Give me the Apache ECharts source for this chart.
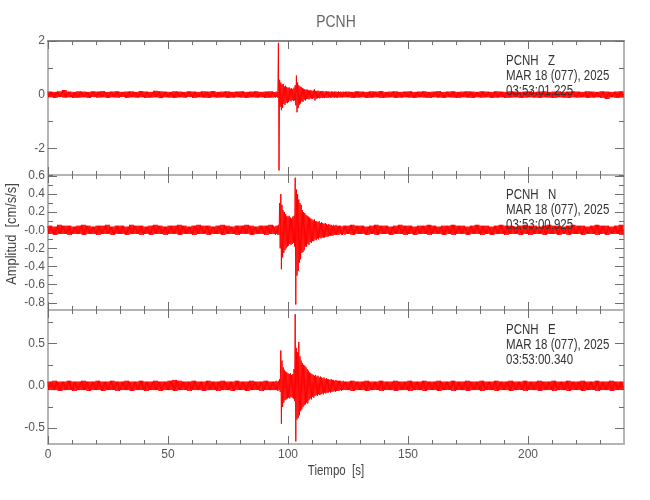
<!DOCTYPE html>
<html>
<head>
<meta charset="utf-8">
<title>PCNH</title>
<script src="https://cdn.jsdelivr.net/npm/echarts@6/dist/echarts.min.js"></script>
<style>
  html, body { margin: 0; padding: 0; background: #fff; }
  #chart { width: 650px; height: 500px; }
</style>
</head>
<body>
<div id="chart"></div>
<script>
// Seismogram PCNH, three components (Z, N, E)
// Each trace is kept as a min/max envelope:
// 2 s bins before 94 s, 0.5 s bins from 94 to 124 s, 2 s bins after.

const xMajorTicks = [0, 50, 100, 150, 200];
const xMinorTicks = [10, 20, 30, 40, 60, 70, 80, 90, 110, 120, 130, 140, 160, 170, 180, 190, 210, 220, 230];

// ---- Z component [cm/s/s]
const zHi = [
  // 0 - 94 s
  0.11,0.10,0.12,0.17,0.11,0.10,0.12,0.11,0.10,0.12,
  0.11,0.13,0.10,0.11,0.12,0.10,0.11,0.12,0.10,0.13,
  0.11,0.10,0.14,0.12,0.11,0.10,0.12,0.11,0.10,0.12,
  0.11,0.10,0.12,0.11,0.13,0.10,0.11,0.12,0.10,0.11,
  0.12,0.10,0.11,0.12,0.10,0.11,0.12,
  // 94 - 124 s
  0.10,0.09,0.11,0.10,1.93,0.55,0.45,0.38,0.40,0.30,
  0.33,0.28,0.25,0.27,0.22,0.24,0.20,0.26,0.35,0.71,
  0.45,0.35,0.30,0.28,0.25,0.22,0.20,0.18,0.19,0.16,
  0.15,0.17,0.14,0.15,0.20,0.14,0.13,0.15,0.12,0.13,
  0.12,0.14,0.11,0.12,0.13,0.11,0.12,0.10,0.12,0.11,
  0.10,0.12,0.11,0.10,0.12,0.10,0.11,0.10,0.11,0.10,
  // 124 - 240 s
  0.11,0.10,0.12,0.11,0.10,0.12,0.11,0.13,0.10,0.11,
  0.12,0.10,0.11,0.12,0.10,0.11,0.12,0.10,0.11,0.13,
  0.10,0.11,0.12,0.10,0.11,0.12,0.11,0.10,0.12,0.11,
  0.10,0.12,0.11,0.10,0.12,0.11,0.10,0.11,0.12,0.10,
  0.11,0.12,0.10,0.11,0.12,0.10,0.11,0.12,0.11,0.10,
  0.12,0.11,0.10,0.12,0.11,0.10,0.11,0.12
];
const zLo = [
  -0.10,-0.12,-0.09,-0.11,-0.10,-0.12,-0.11,-0.10,-0.12,-0.09,
  -0.11,-0.10,-0.12,-0.10,-0.11,-0.09,-0.12,-0.10,-0.11,-0.10,
  -0.12,-0.11,-0.10,-0.13,-0.10,-0.11,-0.12,-0.10,-0.11,-0.09,
  -0.12,-0.10,-0.11,-0.12,-0.10,-0.11,-0.10,-0.12,-0.11,-0.10,
  -0.11,-0.12,-0.10,-0.11,-0.10,-0.12,-0.11,
  -0.10,-0.11,-0.09,-0.12,-2.83,-0.45,-0.58,-0.50,-0.35,-0.38,
  -0.30,-0.32,-0.28,-0.22,-0.25,-0.20,-0.24,-0.22,-0.40,-0.66,
  -0.50,-0.38,-0.33,-0.25,-0.27,-0.20,-0.22,-0.17,-0.16,-0.18,
  -0.14,-0.15,-0.16,-0.13,-0.22,-0.15,-0.14,-0.12,-0.14,-0.12,
  -0.13,-0.11,-0.13,-0.11,-0.12,-0.12,-0.10,-0.12,-0.11,-0.10,
  -0.12,-0.10,-0.11,-0.12,-0.10,-0.11,-0.10,-0.11,-0.10,-0.10,
  -0.10,-0.12,-0.11,-0.10,-0.12,-0.11,-0.10,-0.12,-0.11,-0.10,
  -0.12,-0.11,-0.10,-0.11,-0.12,-0.10,-0.11,-0.12,-0.10,-0.11,
  -0.12,-0.10,-0.11,-0.12,-0.10,-0.11,-0.12,-0.10,-0.11,-0.10,
  -0.12,-0.11,-0.10,-0.12,-0.11,-0.10,-0.12,-0.11,-0.10,-0.11,
  -0.12,-0.10,-0.11,-0.12,-0.10,-0.11,-0.12,-0.10,-0.11,-0.10,
  -0.12,-0.11,-0.10,-0.12,-0.16,-0.10,-0.12,-0.11
];

// ---- N component
const nHi = [
  0.05,0.04,0.06,0.05,0.05,0.04,0.05,0.06,0.05,0.04,
  0.05,0.05,0.06,0.04,0.05,0.05,0.04,0.06,0.05,0.05,
  0.04,0.05,0.06,0.05,0.04,0.05,0.05,0.06,0.05,0.04,
  0.05,0.06,0.05,0.05,0.04,0.05,0.06,0.05,0.04,0.05,
  0.05,0.06,0.05,0.04,0.05,0.05,0.06,
  0.05,0.04,0.05,0.05,0.06,0.30,0.40,0.28,0.22,0.20,
  0.18,0.16,0.15,0.16,0.14,0.13,0.15,0.16,0.58,0.45,
  0.40,0.34,0.30,0.28,0.22,0.20,0.19,0.17,0.16,0.15,
  0.14,0.13,0.12,0.11,0.12,0.10,0.10,0.09,0.10,0.08,
  0.09,0.08,0.07,0.08,0.07,0.06,0.07,0.06,0.06,0.05,
  0.06,0.05,0.06,0.05,0.05,0.05,0.05,0.04,0.05,0.05,
  0.05,0.06,0.05,0.05,0.04,0.05,0.06,0.05,0.05,0.04,
  0.05,0.06,0.05,0.05,0.04,0.05,0.05,0.06,0.05,0.04,
  0.05,0.05,0.06,0.05,0.05,0.04,0.05,0.06,0.05,0.05,
  0.04,0.05,0.06,0.05,0.05,0.04,0.05,0.06,0.05,0.05,
  0.04,0.05,0.06,0.05,0.05,0.04,0.05,0.06,0.05,0.05,
  0.04,0.05,0.06,0.05,0.05,0.04,0.05,0.06
];
const nLo = [
  -0.04,-0.05,-0.04,-0.04,-0.05,-0.04,-0.04,-0.05,-0.04,-0.04,
  -0.05,-0.04,-0.04,-0.05,-0.04,-0.04,-0.05,-0.04,-0.04,-0.05,
  -0.04,-0.05,-0.04,-0.04,-0.05,-0.04,-0.04,-0.05,-0.04,-0.04,
  -0.05,-0.04,-0.04,-0.05,-0.04,-0.04,-0.05,-0.04,-0.04,-0.05,
  -0.04,-0.04,-0.05,-0.04,-0.04,-0.05,-0.04,
  -0.04,-0.05,-0.04,-0.05,-0.05,-0.20,-0.43,-0.30,-0.25,-0.22,
  -0.20,-0.18,-0.17,-0.15,-0.16,-0.15,-0.14,-0.18,-0.82,-0.50,
  -0.45,-0.36,-0.32,-0.25,-0.24,-0.22,-0.18,-0.18,-0.15,-0.16,
  -0.13,-0.14,-0.12,-0.12,-0.10,-0.11,-0.09,-0.10,-0.08,-0.09,
  -0.08,-0.08,-0.08,-0.07,-0.07,-0.07,-0.06,-0.06,-0.06,-0.06,
  -0.05,-0.05,-0.05,-0.05,-0.05,-0.04,-0.05,-0.05,-0.04,-0.05,
  -0.04,-0.05,-0.04,-0.04,-0.05,-0.04,-0.05,-0.04,-0.04,-0.05,
  -0.04,-0.04,-0.05,-0.04,-0.05,-0.04,-0.04,-0.05,-0.04,-0.04,
  -0.05,-0.04,-0.05,-0.04,-0.04,-0.05,-0.04,-0.04,-0.05,-0.04,
  -0.05,-0.04,-0.04,-0.05,-0.04,-0.04,-0.05,-0.04,-0.05,-0.04,
  -0.04,-0.05,-0.04,-0.04,-0.05,-0.04,-0.05,-0.04,-0.04,-0.05,
  -0.04,-0.04,-0.05,-0.04,-0.05,-0.04,-0.04,-0.05
];

// ---- E component
const eHi = [
  0.05,0.06,0.05,0.05,0.06,0.05,0.05,0.06,0.05,0.05,
  0.06,0.05,0.05,0.06,0.05,0.05,0.06,0.05,0.05,0.06,
  0.05,0.05,0.06,0.05,0.05,0.06,0.07,0.06,0.05,0.05,
  0.06,0.05,0.05,0.06,0.05,0.05,0.06,0.05,0.05,0.06,
  0.05,0.05,0.06,0.05,0.05,0.06,0.05,
  0.05,0.05,0.06,0.05,0.06,0.08,0.42,0.30,0.22,0.19,
  0.17,0.16,0.15,0.14,0.15,0.13,0.14,0.20,0.85,0.45,
  0.40,0.52,0.35,0.30,0.27,0.25,0.24,0.22,0.20,0.18,
  0.16,0.15,0.14,0.13,0.12,0.13,0.11,0.12,0.10,0.11,
  0.10,0.09,0.10,0.08,0.09,0.08,0.08,0.07,0.08,0.07,
  0.07,0.06,0.07,0.06,0.06,0.06,0.06,0.05,0.06,0.05,
  0.05,0.06,0.05,0.05,0.06,0.05,0.05,0.06,0.05,0.05,
  0.06,0.05,0.05,0.06,0.05,0.05,0.06,0.05,0.05,0.06,
  0.05,0.05,0.06,0.05,0.05,0.06,0.05,0.05,0.06,0.05,
  0.05,0.06,0.05,0.05,0.06,0.05,0.05,0.06,0.05,0.05,
  0.06,0.05,0.05,0.06,0.05,0.05,0.06,0.05,0.05,0.06,
  0.05,0.05,0.06,0.05,0.05,0.06,0.05,0.05
];
const eLo = [
  -0.05,-0.05,-0.06,-0.05,-0.05,-0.06,-0.05,-0.05,-0.06,-0.05,
  -0.05,-0.06,-0.05,-0.05,-0.06,-0.05,-0.05,-0.06,-0.05,-0.05,
  -0.06,-0.05,-0.05,-0.06,-0.05,-0.05,-0.06,-0.05,-0.05,-0.06,
  -0.05,-0.05,-0.06,-0.05,-0.05,-0.06,-0.05,-0.05,-0.06,-0.05,
  -0.05,-0.06,-0.05,-0.05,-0.06,-0.05,-0.05,
  -0.05,-0.05,-0.05,-0.06,-0.05,-0.07,-0.45,-0.25,-0.20,-0.17,
  -0.16,-0.15,-0.14,-0.15,-0.13,-0.14,-0.15,-0.18,-0.66,-0.40,
  -0.38,-0.35,-0.30,-0.28,-0.25,-0.23,-0.22,-0.20,-0.21,-0.17,
  -0.15,-0.16,-0.13,-0.14,-0.12,-0.11,-0.12,-0.10,-0.11,-0.10,
  -0.09,-0.10,-0.08,-0.09,-0.08,-0.08,-0.07,-0.08,-0.07,-0.07,
  -0.06,-0.07,-0.06,-0.06,-0.06,-0.05,-0.06,-0.05,-0.05,-0.05,
  -0.05,-0.06,-0.05,-0.05,-0.06,-0.05,-0.05,-0.06,-0.05,-0.05,
  -0.06,-0.05,-0.05,-0.06,-0.05,-0.05,-0.06,-0.05,-0.05,-0.06,
  -0.05,-0.05,-0.06,-0.05,-0.05,-0.06,-0.05,-0.05,-0.06,-0.05,
  -0.05,-0.06,-0.05,-0.05,-0.06,-0.05,-0.05,-0.06,-0.05,-0.05,
  -0.06,-0.05,-0.05,-0.06,-0.05,-0.05,-0.06,-0.05,-0.05,-0.06,
  -0.05,-0.05,-0.06,-0.05,-0.05,-0.06,-0.05,-0.05
];

// y ticks per panel
const zLabels = [2, 0, -2];
const zMinor = [1, -1, -3];
const nLabels = [0.6, 0.4, 0.2, 0, -0.2, -0.4, -0.6, -0.8];
const nMinor = [0.5, 0.3, 0.1, -0.1, -0.3, -0.5, -0.7];
const eLabels = [0.5, 0, -0.5];
const eMinor = [0.75, 0.25, -0.25];

const stationText = [
  'PCNH   Z\nMAR 18 (077), 2025\n03:53:01.225',
  'PCNH   N\nMAR 18 (077), 2025\n03:53:00.925',
  'PCNH   E\nMAR 18 (077), 2025\n03:53:00.340'
];

// ---- bins (start, width) for the envelopes
function makeBins() {
  const b = [];
  for (let s = 0; s < 94; s += 2) b.push([s, 2]);
  for (let s = 94; s < 124; s += 0.5) b.push([s, 0.5]);
  for (let s = 124; s < 240; s += 2) b.push([s, 2]);
  return b;
}
const bins = makeBins();

// draw each bin as min/max swings, like a decimated seismogram
function trace(hi, lo) {
  const out = [];
  const sub = 0.25;
  bins.forEach(([t0, w], i) => {
    if (hi[i] === undefined || lo[i] === undefined) return;
    for (let k = 0; k * sub < w - 1e-9; k++) {
      out.push([t0 + k * sub, k % 2 === 0 ? hi[i] : lo[i]]);
    }
  });
  return out;
}

const FONT = "'Liberation Sans', Arial, sans-serif";
const AXIS_GREY = '#b4b4b4';
const TICK_GREY = '#6e6e6e';
const NARROW = 0.82;

const panels = [
  { hi: zHi, lo: zLo, min: -3, max: 2, labels: zLabels, minor: zMinor,
    fmt: v => String(v) },
  { hi: nHi, lo: nLo, min: -0.88, max: 0.61, labels: nLabels, minor: nMinor,
    fmt: v => (v === 0 ? '-0.0' : v.toFixed(1)) },
  { hi: eHi, lo: eLo, min: -0.69, max: 0.9, labels: eLabels, minor: eMinor,
    fmt: v => v.toFixed(1) }
];
const gridBoxes = [
  { top: 41, height: 134 },
  { top: 175, height: 135 },
  { top: 310, height: 134 }
];

const grid = [], xAxis = [], yAxis = [], series = [];

panels.forEach((p, i) => {
  grid.push({ left: 48, width: 576, top: gridBoxes[i].top, height: gridBoxes[i].height });

  const xBase = { type: 'value', gridIndex: i, min: 0, max: 240, splitLine: { show: false } };
  const showXLabel = i === 2;
  // bottom major (data axis), bottom minor, top major, top minor
  xAxis.push(Object.assign({}, xBase, {
    position: 'bottom',
    axisLine: { show: true, onZero: false, lineStyle: { color: AXIS_GREY, width: 2 } },
    axisTick: { show: true, inside: true, length: 8, customValues: xMajorTicks, lineStyle: { color: TICK_GREY } },
    axisLabel: showXLabel
      ? { show: true, customValues: xMajorTicks, margin: 5, color: '#555', fontSize: 12, fontFamily: FONT }
      : { show: false }
  }));
  xAxis.push(Object.assign({}, xBase, {
    position: 'bottom',
    axisLine: { show: false, onZero: false },
    axisTick: { show: true, inside: true, length: 4, customValues: xMinorTicks, lineStyle: { color: TICK_GREY } },
    axisLabel: { show: false }
  }));
  xAxis.push(Object.assign({}, xBase, {
    position: 'top',
    axisLine: { show: true, onZero: false, lineStyle: { color: i === 0 ? '#858585' : AXIS_GREY, width: 2 } },
    axisTick: { show: true, inside: true, length: 8, customValues: xMajorTicks, lineStyle: { color: TICK_GREY } },
    axisLabel: { show: false }
  }));
  xAxis.push(Object.assign({}, xBase, {
    position: 'top',
    axisLine: { show: false, onZero: false },
    axisTick: { show: true, inside: true, length: 4, customValues: xMinorTicks, lineStyle: { color: TICK_GREY } },
    axisLabel: { show: false }
  }));

  const yBase = { type: 'value', gridIndex: i, min: p.min, max: p.max, splitLine: { show: false } };
  yAxis.push(Object.assign({}, yBase, {
    position: 'left',
    axisLine: { show: true, onZero: false, lineStyle: { color: AXIS_GREY, width: 2 } },
    axisTick: { show: true, inside: true, length: 9, customValues: p.labels, lineStyle: { color: TICK_GREY } },
    axisLabel: { show: true, customValues: p.labels, formatter: p.fmt, margin: 3,
      color: '#555', fontSize: 12, fontFamily: FONT }
  }));
  yAxis.push(Object.assign({}, yBase, {
    position: 'left',
    axisLine: { show: false, onZero: false },
    axisTick: { show: true, inside: true, length: 5, customValues: p.minor, lineStyle: { color: TICK_GREY } },
    axisLabel: { show: false }
  }));
  yAxis.push(Object.assign({}, yBase, {
    position: 'right',
    axisLine: { show: true, onZero: false, lineStyle: { color: AXIS_GREY, width: 2 } },
    axisTick: { show: true, inside: true, length: 9, customValues: p.labels, lineStyle: { color: TICK_GREY } },
    axisLabel: { show: false }
  }));
  yAxis.push(Object.assign({}, yBase, {
    position: 'right',
    axisLine: { show: false, onZero: false },
    axisTick: { show: true, inside: true, length: 5, customValues: p.minor, lineStyle: { color: TICK_GREY } },
    axisLabel: { show: false }
  }));

  series.push({
    type: 'line',
    xAxisIndex: i * 4,
    yAxisIndex: i * 4,
    data: trace(p.hi, p.lo),
    showSymbol: false,
    clip: true,
    lineStyle: { color: '#ff0000', width: 1 },
    z: 3
  });
});

const graphic = [
  { type: 'text', x: 336, y: 22, z: 10, scaleX: NARROW,
    style: { text: 'PCNH', fill: '#666', font: "17px " + FONT, align: 'center', verticalAlign: 'middle' } },
  { type: 'text', x: 336, y: 471, z: 10, scaleX: NARROW,
    style: { text: 'Tiempo  [s]', fill: '#444', font: "14px " + FONT, align: 'center', verticalAlign: 'middle' } },
  { type: 'text', x: 12, y: 234, rotation: Math.PI / 2, z: 10, scaleX: 0.92,
    style: { text: 'Amplitud  [cm/s/s]', fill: '#444', font: "14px " + FONT, align: 'center', verticalAlign: 'middle' } }
];
stationText.forEach((txt, i) => {
  graphic.push({
    type: 'text', x: 506, y: gridBoxes[i].top + 13, z: 10, scaleX: NARROW,
    style: { text: txt, fill: '#333', font: "14px " + FONT, lineHeight: 14.7, align: 'left', verticalAlign: 'top' }
  });
});

const chart = echarts.init(document.getElementById('chart'), null, { renderer: 'canvas' });
chart.setOption({
  animation: false,
  backgroundColor: '#fff',
  grid: grid,
  xAxis: xAxis,
  yAxis: yAxis,
  series: series,
  graphic: graphic
});
</script>
</body>
</html>
